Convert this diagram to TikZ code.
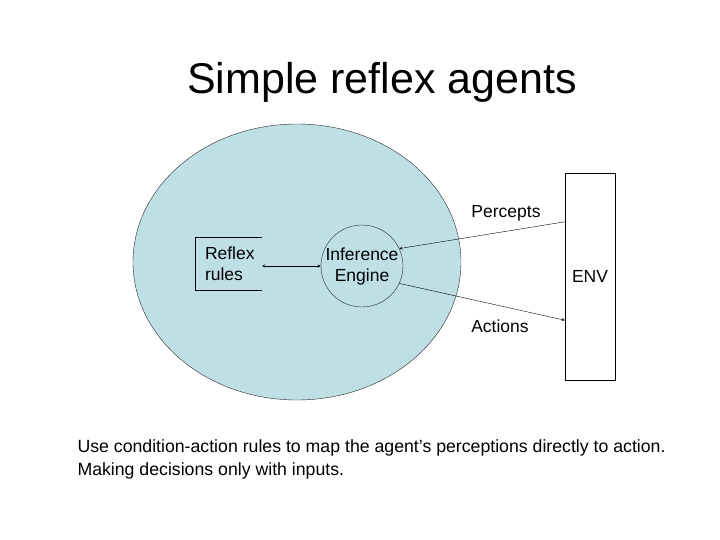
\documentclass[tikz,border=0pt]{standalone}
\usepackage{fontspec}
\setmainfont{Liberation Sans}
\usetikzlibrary{shapes,arrows,positioning}
\definecolor{agentblue}{RGB}{190,224,229}
\definecolor{edge}{RGB}{40,40,40}

\begin{document}
\begin{tikzpicture}[x=1pt,y=-1pt,>=stealth,every node/.style={font=\fontsize{17.5}{21}\selectfont}]
	\useasboundingbox (0,0) rectangle (720,540);
	\node (title) [anchor=base, font=\fontsize{43}{50}\selectfont] at (382,94) {Simple reflex agents};
	\node[draw=edge, ellipse, fill=agentblue, minimum width=328pt, minimum height=276pt] (agent) at (297,262) {};
	\node[minimum width=67pt, minimum height=53pt, text width=47pt, inner xsep=10pt, align=left] (rules) at (228.5,263.5) {Reflex\\rules};
	\draw (rules.north east) -- (rules.north west) -- (rules.south west) -- (rules.south east);
	\node[draw=edge, circle, minimum size=82pt, inner sep=0pt, align=center] (engine) at (362,266) {Inference\\Engine};
	\node[draw, rectangle, fill=white, minimum width=50pt, minimum height=207pt] (env) at (590,276.5) {ENV};
	\draw[<->] (rules.east |- engine.west) -- (engine.west);
	\draw[->] ([yshift=-49pt]env.north west) -- (engine.25);
	\draw[->] (engine.-25) -- ([yshift=60pt]env.south west);
	\node (percepts) at (506,213) {Percepts};
	\node (actions) at (500,326) {Actions};
	\node (line1) [anchor=base west, font=\fontsize{17.7}{21}\selectfont] at (74,452) {Use condition-action rules to map the agent’s perceptions directly to action.};
	\node (line2) [anchor=base west, font=\fontsize{17.7}{21}\selectfont] at (74,475) {Making decisions only with inputs.};
\end{tikzpicture}
\end{document}
